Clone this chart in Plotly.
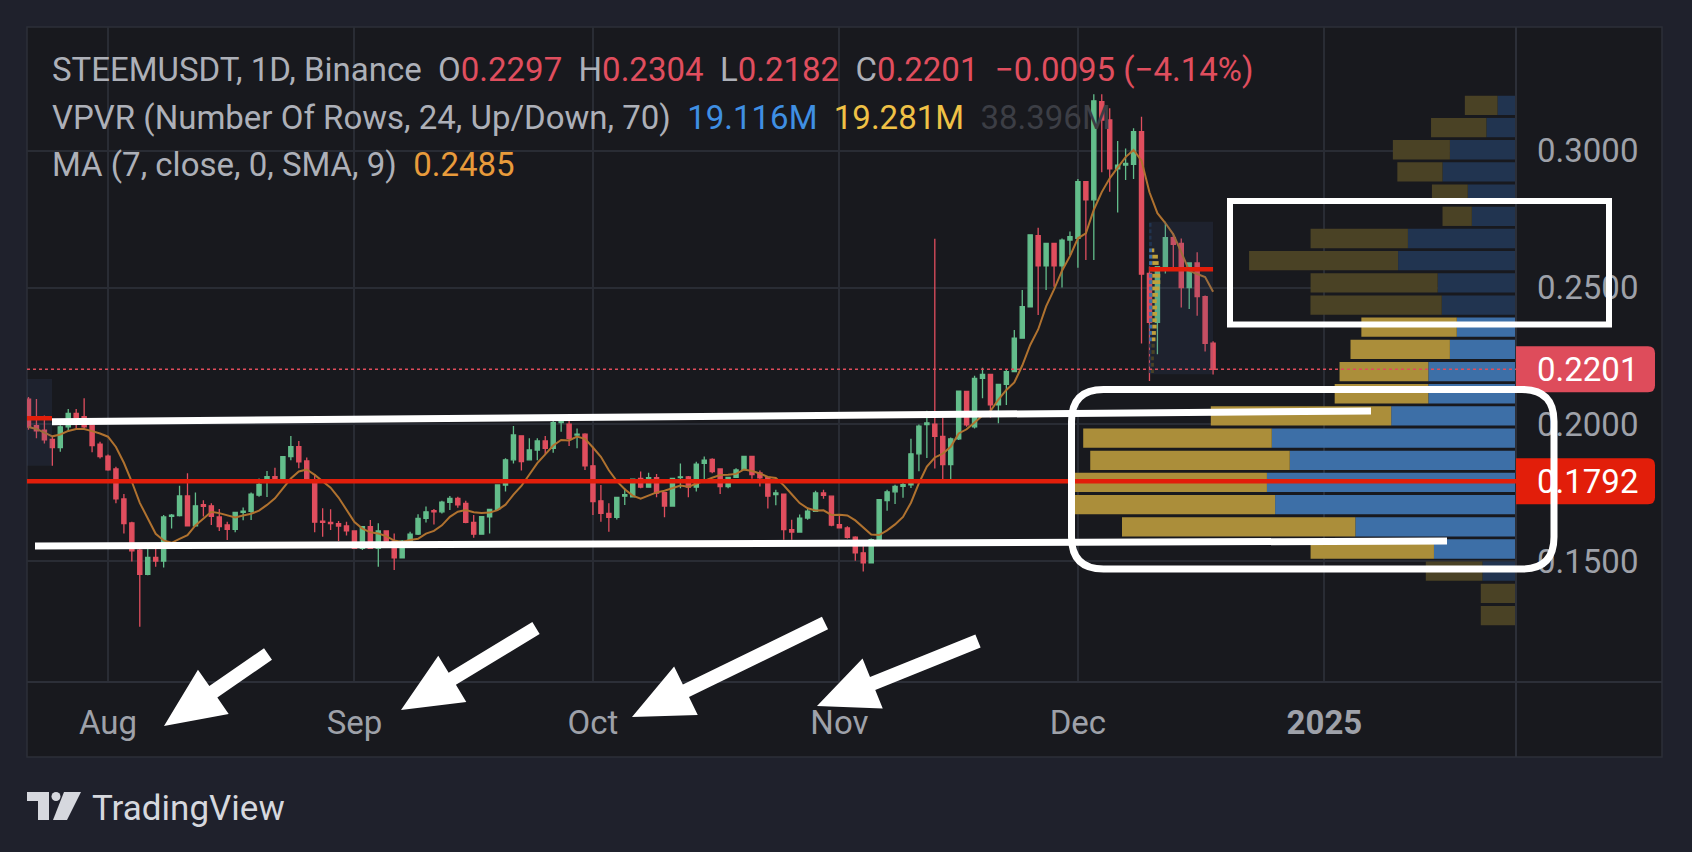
import math
import pandas as pd
import plotly.graph_objects as go

# ---------------- data ----------------
SYMBOL = "STEEMUSDT, 1D, Binance"
START_DATE = "2024-07-22"

opens = [0.2092, 0.1995, 0.1979, 0.1945, 0.1915, 0.1991, 0.2040, 0.2028, 0.1997, 0.1927,
         0.1884, 0.1837, 0.1727, 0.1639, 0.1540, 0.1451, 0.1513, 0.1500, 0.1663, 0.1666,
         0.1738, 0.1629, 0.1706, 0.1702, 0.1661, 0.1632, 0.1616, 0.1678, 0.1682, 0.1741,
         0.1795, 0.1809, 0.1796, 0.1882, 0.1918, 0.1866, 0.1796, 0.1646, 0.1641, 0.1637,
         0.1628, 0.1610, 0.1546, 0.1626, 0.1546, 0.1610, 0.1573, 0.1512, 0.1573, 0.1598,
         0.1656, 0.1684, 0.1680, 0.1715, 0.1729, 0.1711, 0.1641, 0.1598, 0.1662, 0.1689,
         0.1778, 0.1870, 0.1958, 0.1870, 0.1906, 0.1939, 0.1912, 0.2006, 0.2001, 0.1961,
         0.1964, 0.1848, 0.1720, 0.1674, 0.1660, 0.1737, 0.1735, 0.1802, 0.1770, 0.1805,
         0.1750, 0.1701, 0.1805, 0.1808, 0.1770, 0.1857, 0.1872, 0.1837, 0.1772, 0.1806,
         0.1834, 0.1883, 0.1822, 0.1806, 0.1743, 0.1745, 0.1615, 0.1606, 0.1657, 0.1682,
         0.1749, 0.1737, 0.1633, 0.1621, 0.1587, 0.1530, 0.1493, 0.1578, 0.1721, 0.1753,
         0.1773, 0.1779, 0.1892, 0.1999, 0.2001, 0.1956, 0.1853, 0.1947, 0.2120, 0.1991,
         0.2168, 0.2183, 0.2071, 0.2146, 0.2193, 0.2315, 0.2430, 0.2690, 0.2580, 0.2662,
         0.2580, 0.2674, 0.2680, 0.2888, 0.2821, 0.3180, 0.3113, 0.2934, 0.2948, 0.2951,
         0.3070, 0.2552, 0.2373, 0.2577, 0.2683, 0.2662, 0.2500, 0.2590, 0.2467, 0.2297]
highs = [0.2100, 0.2093, 0.2032, 0.1955, 0.1997, 0.2056, 0.2056, 0.2095, 0.2000, 0.1936,
         0.1890, 0.1845, 0.1745, 0.1644, 0.1546, 0.1546, 0.1546, 0.1668, 0.1672, 0.1775,
         0.1821, 0.1751, 0.1722, 0.1711, 0.1690, 0.1644, 0.1680, 0.1696, 0.1751, 0.1802,
         0.1829, 0.1841, 0.1882, 0.1957, 0.1939, 0.1879, 0.1817, 0.1693, 0.1689, 0.1646,
         0.1644, 0.1612, 0.1626, 0.1650, 0.1638, 0.1612, 0.1601, 0.1577, 0.1607, 0.1671,
         0.1699, 0.1690, 0.1720, 0.1738, 0.1735, 0.1720, 0.1668, 0.1662, 0.1689, 0.1778,
         0.1876, 0.1994, 0.1960, 0.1949, 0.1949, 0.1957, 0.2013, 0.2022, 0.2016, 0.1985,
         0.1967, 0.1918, 0.1778, 0.1711, 0.1733, 0.1766, 0.1802, 0.1827, 0.1823, 0.1818,
         0.1750, 0.1802, 0.1857, 0.1811, 0.1863, 0.1882, 0.1876, 0.1839, 0.1806, 0.1839,
         0.1885, 0.1885, 0.1831, 0.1806, 0.1761, 0.1745, 0.1651, 0.1670, 0.1694, 0.1757,
         0.1761, 0.1740, 0.1667, 0.1627, 0.1591, 0.1554, 0.1582, 0.1724, 0.1761, 0.1779,
         0.1798, 0.1947, 0.1999, 0.2050, 0.2679, 0.2023, 0.1952, 0.2124, 0.2122, 0.2178,
         0.2207, 0.2185, 0.2146, 0.2199, 0.2345, 0.2491, 0.2693, 0.2719, 0.2662, 0.2662,
         0.2680, 0.2705, 0.2897, 0.2888, 0.3207, 0.3207, 0.3156, 0.3036, 0.3009, 0.3083,
         0.3125, 0.2577, 0.2577, 0.2741, 0.2699, 0.2680, 0.2592, 0.2629, 0.2471, 0.2304]
lows = [0.1980, 0.1949, 0.1930, 0.1848, 0.1900, 0.1975, 0.1985, 0.1985, 0.1898, 0.1875,
        0.1830, 0.1711, 0.1601, 0.1498, 0.1260, 0.1448, 0.1479, 0.1476, 0.1619, 0.1663,
        0.1627, 0.1627, 0.1663, 0.1632, 0.1610, 0.1577, 0.1605, 0.1649, 0.1650, 0.1735,
        0.1734, 0.1796, 0.1790, 0.1869, 0.1839, 0.1790, 0.1605, 0.1589, 0.1613, 0.1573,
        0.1593, 0.1544, 0.1540, 0.1544, 0.1479, 0.1556, 0.1467, 0.1509, 0.1570, 0.1595,
        0.1641, 0.1634, 0.1674, 0.1687, 0.1695, 0.1638, 0.1585, 0.1596, 0.1601, 0.1687,
        0.1754, 0.1857, 0.1831, 0.1869, 0.1869, 0.1888, 0.1896, 0.1973, 0.1921, 0.1912,
        0.1833, 0.1668, 0.1644, 0.1607, 0.1652, 0.1705, 0.1735, 0.1766, 0.1770, 0.1733,
        0.1660, 0.1701, 0.1766, 0.1733, 0.1754, 0.1796, 0.1821, 0.1745, 0.1766, 0.1804,
        0.1832, 0.1801, 0.1773, 0.1692, 0.1704, 0.1578, 0.1578, 0.1603, 0.1651, 0.1680,
        0.1728, 0.1627, 0.1619, 0.1582, 0.1501, 0.1462, 0.1493, 0.1576, 0.1684, 0.1709,
        0.1731, 0.1767, 0.1828, 0.1877, 0.1838, 0.1794, 0.1794, 0.1943, 0.1991, 0.1985,
        0.2095, 0.2024, 0.2004, 0.2071, 0.2190, 0.2313, 0.2428, 0.2400, 0.2491, 0.2503,
        0.2500, 0.2619, 0.2573, 0.2601, 0.2601, 0.2922, 0.2851, 0.2775, 0.2894, 0.2897,
        0.2296, 0.2158, 0.2256, 0.2552, 0.2573, 0.2427, 0.2422, 0.2397, 0.2266, 0.2182]
closes = [0.1990, 0.1976, 0.1943, 0.1915, 0.1991, 0.2040, 0.2024, 0.1991, 0.1922, 0.1882,
          0.1833, 0.1727, 0.1637, 0.1537, 0.1451, 0.1513, 0.1500, 0.1661, 0.1668, 0.1738,
          0.1629, 0.1702, 0.1700, 0.1663, 0.1626, 0.1616, 0.1678, 0.1682, 0.1745, 0.1780,
          0.1809, 0.1796, 0.1882, 0.1918, 0.1863, 0.1796, 0.1642, 0.1641, 0.1637, 0.1628,
          0.1610, 0.1546, 0.1626, 0.1546, 0.1610, 0.1573, 0.1512, 0.1573, 0.1598, 0.1656,
          0.1680, 0.1680, 0.1715, 0.1729, 0.1705, 0.1641, 0.1598, 0.1662, 0.1689, 0.1778,
          0.1870, 0.1961, 0.1864, 0.1906, 0.1939, 0.1912, 0.2006, 0.2010, 0.1949, 0.1964,
          0.1848, 0.1717, 0.1674, 0.1660, 0.1733, 0.1743, 0.1799, 0.1770, 0.1805, 0.1748,
          0.1701, 0.1802, 0.1808, 0.1770, 0.1854, 0.1869, 0.1827, 0.1772, 0.1806, 0.1833,
          0.1883, 0.1816, 0.1804, 0.1737, 0.1749, 0.1615, 0.1606, 0.1657, 0.1682, 0.1749,
          0.1740, 0.1631, 0.1621, 0.1587, 0.1530, 0.1493, 0.1578, 0.1724, 0.1753, 0.1773,
          0.1779, 0.1892, 0.1993, 0.2005, 0.1956, 0.1853, 0.1947, 0.2121, 0.1998, 0.2168,
          0.2183, 0.2071, 0.2146, 0.2193, 0.2315, 0.2430, 0.2693, 0.2580, 0.2662, 0.2580,
          0.2674, 0.2686, 0.2888, 0.2821, 0.3183, 0.3113, 0.2934, 0.2948, 0.2954, 0.3070,
          0.2549, 0.2373, 0.2577, 0.2683, 0.2658, 0.2500, 0.2590, 0.2467, 0.2296, 0.2201]

# Visible-range volume profile, 24 rows, bottom -> top (millions)
vp_up_m = [0.000, 0.000, 0.263, 0.643, 1.259, 1.888, 1.952, 1.773, 1.914, 0.978, 0.687, 0.687,
           0.518, 0.464, 0.582, 0.614, 0.924, 0.847, 0.346, 0.378, 0.576, 0.518, 0.232, 0.145]
vp_down_m = [0.276, 0.276, 0.444, 0.967, 1.829, 1.581, 1.549, 1.564, 1.478, 1.414, 0.734, 0.696,
             0.779, 0.748, 1.029, 0.996, 1.168, 0.763, 0.230, 0.281, 0.354, 0.447, 0.434, 0.256]
VP_VALUE_AREA_ROWS = [3, 13]
VP_TOTALS_M = [19.116, 19.281, 38.396]
POC_PRICE = 0.1792
MA_LENGTH = 7

# Fixed-range profile drawings: [start, end, bottom, top, poc]
frvp_boxes = [["2024-07-15", "2024-07-24 23:00", 0.1848, 0.2166, 0.2022],
              ["2024-12-09 23:00", "2024-12-18", 0.2183, 0.2741, 0.2567]]
mini_up_days = [0.25, 0.25, 0.25, 0.3, 0.3, 0.35, 0.35, 0.4, 0.4, 0.4, 0.4, 0.4,
                0.4, 0.4, 0.4, 0.4, 0.4, 0.4, 0.4, 0.35, 0.35, 0.3, 0.3, 0.3]
mini_down_days = [0.35, 0.35, 0.35, 0.4, 0.4, 0.45, 0.5, 0.55, 0.55, 0.6, 0.6, 0.55,
                  0.7, 0.9, 1.0, 1.0, 0.9, 0.8, 0.7, 0.3, 0.0, 0.0, 0.0, 0.0]

month_tick_dates = ["2024-08-01", "2024-09-01", "2024-10-01", "2024-11-01", "2024-12-01", "2025-01-01"]
month_tick_text = ["Aug", "Sep", "Oct", "Nov", "Dec", "<b>2025</b>"]
price_ticks = [0.15, 0.20, 0.25, 0.30]

# ---------------- layout constants ----------------
W, H = 1692, 852
PL, PR, PT, PB = 27, 1516, 27, 682
PANEL_R, PANEL_B = 1662, 757
X_RANGE = ["2024-07-21 19:30", "2025-01-25 02:30"]
Y_RANGE = [0.10575, 0.34532]

OUTER = "#1f212c"
INNER = "#18191e"
GRID = "#292c34"
BORDER = "#2c2f38"
GREEN = "#63bd8b"
RED = "#e04e5e"
MA_COLOR = "#b0722f"
UP_BRIGHT, UP_DIM = "#3d6fa7", "#213450"
DN_BRIGHT, DN_DIM = "#ab8e3a", "#4a4225"
POC_RED = "#e21e0a"
LAST_RED = "#de4c5b"
TXT = "#adb0b8"
AXIS_TXT = "#9ea1a9"
FONT = "Roboto"
FS = 33


def fx(x):
    return (x - PL) / (PR - PL)


def fy(y):
    return (PB - y) / (PB - PT)


def price_px(p):
    return PB - (p - Y_RANGE[0]) / (Y_RANGE[1] - Y_RANGE[0]) * (PB - PT)


def P(x, y):
    return f"{fx(x):.6f},{fy(y):.6f}"


def rrect_path(x0, y0, x1, y1, rtl, rtr, rbr, rbl):
    return (f"M {P(x0 + rtl, y0)} L {P(x1 - rtr, y0)} Q {P(x1, y0)} {P(x1, y0 + rtr)} "
            f"L {P(x1, y1 - rbr)} Q {P(x1, y1)} {P(x1 - rbr, y1)} "
            f"L {P(x0 + rbl, y1)} Q {P(x0, y1)} {P(x0, y1 - rbl)} "
            f"L {P(x0, y0 + rtl)} Q {P(x0, y0)} {P(x0 + rtl, y0)} Z")


def arrow_path(tail, tip, shaft_w=14, head_len=60, head_w=54):
    dx, dy = tip[0] - tail[0], tip[1] - tail[1]
    L = math.hypot(dx, dy)
    ux, uy = dx / L, dy / L
    nx, ny = -uy, ux
    bx, by = tip[0] - ux * head_len, tip[1] - uy * head_len
    pts = [(tail[0] + nx * shaft_w / 2, tail[1] + ny * shaft_w / 2),
           (bx + nx * shaft_w / 2, by + ny * shaft_w / 2),
           (bx + nx * head_w / 2, by + ny * head_w / 2),
           tip,
           (bx - nx * head_w / 2, by - ny * head_w / 2),
           (bx - nx * shaft_w / 2, by - ny * shaft_w / 2),
           (tail[0] - nx * shaft_w / 2, tail[1] - ny * shaft_w / 2)]
    return "M " + " L ".join(P(x, y) for x, y in pts) + " Z"


dates = pd.date_range(START_DATE, periods=len(opens), freq="D")
ma = pd.Series(closes).rolling(MA_LENGTH, min_periods=1).mean()

vp_lo, vp_hi = min(lows), max(highs)
n_rows = len(vp_up_m)
row_h = (vp_hi - vp_lo) / n_rows
row_centers = [vp_lo + (i + 0.5) * row_h for i in range(n_rows)]
in_va = [VP_VALUE_AREA_ROWS[0] <= i <= VP_VALUE_AREA_ROWS[1] for i in range(n_rows)]
vp_tot = [u + d for u, d in zip(vp_up_m, vp_down_m)]

fig = go.Figure()

fig.add_trace(go.Bar(
    x=vp_up_m, y=row_centers, base=0, orientation="h", width=row_h * 0.87,
    marker=dict(color=[UP_BRIGHT if v else UP_DIM for v in in_va], line=dict(width=0)),
    xaxis="x2", yaxis="y", hoverinfo="skip"))
fig.add_trace(go.Bar(
    x=vp_down_m, y=row_centers, base=vp_up_m, orientation="h", width=row_h * 0.87,
    marker=dict(color=[DN_BRIGHT if v else DN_DIM for v in in_va], line=dict(width=0)),
    xaxis="x2", yaxis="y", hoverinfo="skip"))

fig.add_trace(go.Candlestick(
    x=dates, open=opens, high=highs, low=lows, close=closes,
    increasing=dict(line=dict(color=GREEN, width=1.3), fillcolor=GREEN),
    decreasing=dict(line=dict(color=RED, width=1.3), fillcolor=RED),
    whiskerwidth=0, hoverinfo="skip"))

fig.add_trace(go.Scatter(x=dates, y=ma, mode="lines",
                         line=dict(color=MA_COLOR, width=2), hoverinfo="skip"))

shapes = []
# panel background and dividers
shapes.append(dict(type="rect", xref="paper", yref="paper", x0=fx(PL), x1=fx(PANEL_R),
                   y0=fy(PANEL_B), y1=fy(PT), fillcolor=INNER, line=dict(color=BORDER, width=1.5),
                   layer="below"))
shapes.append(dict(type="line", xref="paper", yref="paper", x0=fx(PR), x1=fx(PR),
                   y0=fy(PANEL_B), y1=fy(PT), line=dict(color=BORDER, width=2)))
shapes.append(dict(type="line", xref="paper", yref="paper", x0=fx(PL), x1=fx(PANEL_R),
                   y0=fy(PB), y1=fy(PB), line=dict(color=BORDER, width=2)))

# fixed range volume profile boxes
for x0, x1, b, t, poc in frvp_boxes:
    shapes.append(dict(type="rect", xref="x", yref="y", x0=x0, x1=x1, y0=b, y1=t,
                       fillcolor="rgba(60,85,130,0.16)", line=dict(width=0), layer="above"))
# mini profile inside the December box
box_start = pd.Timestamp(frvp_boxes[1][0])
mini_h = (frvp_boxes[1][3] - frvp_boxes[1][2]) / len(mini_up_days)
for i, (u, d) in enumerate(zip(mini_up_days, mini_down_days)):
    yb = frvp_boxes[1][2] + i * mini_h + mini_h * 0.2
    yt = frvp_boxes[1][2] + (i + 1) * mini_h - mini_h * 0.2
    bright = 5 <= i <= 19
    xa = box_start + pd.Timedelta(days=u)
    xb = xa + pd.Timedelta(days=d)
    shapes.append(dict(type="rect", xref="x", yref="y", x0=box_start, x1=xa, y0=yb, y1=yt,
                       fillcolor=UP_BRIGHT if bright else UP_DIM, line=dict(width=0), layer="above"))
    if d > 0:
        shapes.append(dict(type="rect", xref="x", yref="y", x0=xa, x1=xb, y0=yb, y1=yt,
                           fillcolor="#bfa03c" if bright else DN_DIM, line=dict(width=0), layer="above"))
for x0, x1, b, t, poc in frvp_boxes:
    shapes.append(dict(type="line", xref="x", yref="y", x0=x0, x1=x1, y0=poc, y1=poc,
                       line=dict(color=POC_RED, width=4.5), layer="above"))

# POC and last price lines
shapes.append(dict(type="line", xref="paper", yref="y", x0=0, x1=1, y0=POC_PRICE, y1=POC_PRICE,
                   line=dict(color=POC_RED, width=4.5), layer="above"))
shapes.append(dict(type="line", xref="paper", yref="y", x0=0, x1=1, y0=closes[-1], y1=closes[-1],
                   line=dict(color=LAST_RED, width=1.5, dash="dot"), layer="above"))

# price labels (boxes)
LABEL_HALF = 23
for price, col in [(closes[-1], LAST_RED), (POC_PRICE, POC_RED)]:
    yc = price_px(price)
    shapes.append(dict(type="path", xref="paper", yref="paper",
                       path=rrect_path(PR, yc - LABEL_HALF, 1655, yc + LABEL_HALF, 0, 7, 7, 0),
                       fillcolor=col, line=dict(width=0), layer="above"))

# white hand drawings
WHITE = "#ffffff"
shapes.append(dict(type="line", xref="paper", yref="paper", x0=fx(52), y0=fy(421.7),
                   x1=fx(1371), y1=fy(411), line=dict(color=WHITE, width=7), layer="above"))
shapes.append(dict(type="line", xref="paper", yref="paper", x0=fx(35), y0=fy(546),
                   x1=fx(1447), y1=fy(541), line=dict(color=WHITE, width=7), layer="above"))
shapes.append(dict(type="path", xref="paper", yref="paper",
                   path=rrect_path(1071.5, 389.5, 1554, 569, 32, 32, 32, 32),
                   line=dict(color=WHITE, width=7), fillcolor="rgba(0,0,0,0)", layer="above"))
shapes.append(dict(type="rect", xref="paper", yref="paper", x0=fx(1230), x1=fx(1609),
                   y0=fy(201), y1=fy(324.5), line=dict(color=WHITE, width=6), layer="above"))
for tail, tip in [((268, 654), (164, 726)), ((536, 628), (401, 710)),
                  ((825, 623), (632, 717)), ((978, 641), (817, 706))]:
    shapes.append(dict(type="path", xref="paper", yref="paper", path=arrow_path(tail, tip),
                       fillcolor=WHITE, line=dict(width=0), layer="above"))

# TradingView logo
LOGO = "#d6d8de"
shapes.append(dict(type="path", xref="paper", yref="paper",
                   path="M " + " L ".join(P(x, y) for x, y in
                                          [(27, 792), (49, 792), (49, 820), (38, 820), (38, 801), (27, 801)]) + " Z",
                   fillcolor=LOGO, line=dict(width=0)))
shapes.append(dict(type="circle", xref="paper", yref="paper", x0=fx(51.5), x1=fx(60.5),
                   y0=fy(801), y1=fy(792), fillcolor=LOGO, line=dict(width=0)))
shapes.append(dict(type="path", xref="paper", yref="paper",
                   path="M " + " L ".join(P(x, y) for x, y in
                                          [(64, 792), (81, 792), (67, 820), (53, 820)]) + " Z",
                   fillcolor=LOGO, line=dict(width=0)))

# ---------------- annotations ----------------
ann = []
o, h, l, c = opens[-1], highs[-1], lows[-1], closes[-1]
chg = c - closes[-2]
pct = chg / closes[-2] * 100
S = "\u00a0\u00a0"


def col(t, cc):
    return f"<span style='color:{cc}'>{t}</span>"


def fmt_signed(v, nd):
    s = f"{abs(v):.{nd}f}"
    return ("\u2212" if v < 0 else "+") + s


line1 = (SYMBOL + S + "O" + col(f"{o:.4f}", RED) + S + "H" + col(f"{h:.4f}", RED) + S + "L"
         + col(f"{l:.4f}", RED) + S + "C" + col(f"{c:.4f}", RED) + S
         + col(f"{fmt_signed(chg, 4)} ({fmt_signed(pct, 2)}%)", RED))
line2 = ("VPVR (Number Of Rows, 24, Up/Down, 70)" + S + col(f"{VP_TOTALS_M[0]:.3f}M", "#3f8fe3") + S
         + col(f"{VP_TOTALS_M[1]:.3f}M", "#efc146") + S + col(f"{VP_TOTALS_M[2]:.3f}M", "#3c3e45"))
line3 = f"MA ({MA_LENGTH}, close, 0, SMA, 9)" + S + col(f"{ma.iloc[-1]:.4f}", "#e89b3b")

for txt, yy in [(line1, 70), (line2, 117), (line3, 164)]:
    ann.append(dict(text=txt, xref="paper", yref="paper", x=fx(50), y=fy(yy), xanchor="left",
                    yanchor="middle", showarrow=False, font=dict(family=FONT, size=FS, color=TXT)))

for price in [closes[-1], POC_PRICE]:
    ann.append(dict(text=f"{price:.4f}", xref="paper", yref="paper", x=fx(1588),
                    y=fy(price_px(price)), xanchor="center", yanchor="middle", showarrow=False,
                    font=dict(family=FONT, size=FS, color="#ffffff")))

ann.append(dict(text="TradingView", xref="paper", yref="paper", x=fx(90), y=fy(809),
                xanchor="left", yanchor="middle", showarrow=False,
                font=dict(family=FONT, size=35, color=LOGO)))

fig.update_layout(
    width=W, height=H,
    margin=dict(l=PL, r=W - PR, t=PT, b=H - PB, pad=0, autoexpand=False),
    paper_bgcolor=OUTER, plot_bgcolor=INNER,
    template="none", showlegend=False, barmode="overlay", boxgap=0.25,
    font=dict(family=FONT),
    xaxis=dict(type="date", range=X_RANGE, tickvals=month_tick_dates, ticktext=month_tick_text,
               showgrid=True, gridcolor=GRID, gridwidth=2, zeroline=False, showline=False,
               ticks="", ticklabelstandoff=18, automargin=False,
               tickfont=dict(family=FONT, size=FS, color=AXIS_TXT),
               rangeslider=dict(visible=False)),
    yaxis=dict(range=Y_RANGE, side="right", tickvals=price_ticks, tickformat=".4f",
               showgrid=True, gridcolor=GRID, gridwidth=2, zeroline=False, showline=False,
               ticks="", ticklabelstandoff=20, automargin=False,
               tickfont=dict(family=FONT, size=FS, color=AXIS_TXT)),
    xaxis2=dict(overlaying="x", anchor="y", range=[max(vp_tot) / 0.30, 0], visible=False,
                showgrid=False, zeroline=False),
    shapes=shapes, annotations=ann,
)

fig.write_html("out.html", config={"displayModeBar": False},
               post_script="document.body.style.margin='0';document.body.style.overflow='hidden';")
